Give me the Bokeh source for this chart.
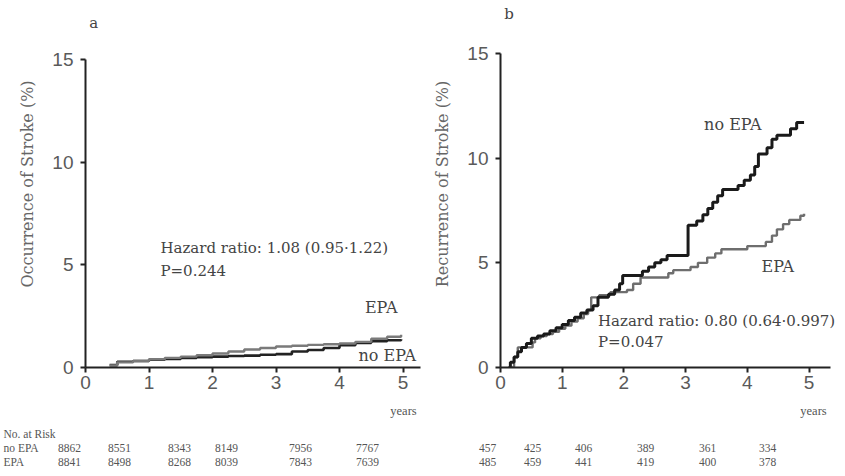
from bokeh.plotting import figure
from bokeh.models import Label, Range1d, FixedTicker, ColumnDataSource
from bokeh.layouts import column, row
from bokeh.core.properties import value
from bokeh.embed import file_html
from bokeh.resources import INLINE

# ---------------- data ----------------
x_ticks = [0, 1, 2, 3, 4, 5]
y_ticks = [0, 5, 10, 15]

# panel a: occurrence of stroke (primary prevention), cumulative %
a_epa_t = [0.38, 0.5, 0.75, 1.0, 1.25, 1.5, 1.75, 2.0, 2.25, 2.5, 2.75, 3.0, 3.25, 3.5, 3.75, 4.0, 4.25, 4.5, 4.75, 4.97]
a_epa_v = [0.1, 0.25, 0.32, 0.4, 0.47, 0.53, 0.6, 0.68, 0.78, 0.88, 0.95, 1.02, 1.06, 1.1, 1.13, 1.17, 1.25, 1.4, 1.5, 1.6]
a_no_t = [0.38, 0.5, 0.75, 1.0, 1.25, 1.5, 1.75, 2.0, 2.25, 2.5, 2.75, 3.0, 3.25, 3.5, 3.75, 4.0, 4.25, 4.5, 4.75, 4.97]
a_no_v = [0.12, 0.28, 0.32, 0.38, 0.42, 0.46, 0.5, 0.53, 0.56, 0.58, 0.62, 0.65, 0.78, 0.85, 0.95, 1.08, 1.2, 1.28, 1.33, 1.38]

# panel b: recurrence of stroke (secondary prevention), cumulative %
b_no_t = [0.13, 0.16, 0.22, 0.28, 0.34, 0.42, 0.5, 0.6, 0.7, 0.8, 0.9, 1.0, 1.1, 1.2, 1.3, 1.4, 1.5,
          1.58, 1.75, 1.85, 1.93, 1.98, 2.3, 2.4, 2.5, 2.6, 2.7, 3.04, 3.18, 3.28, 3.36, 3.44, 3.52,
          3.6, 3.85, 3.95, 4.05, 4.12, 4.18, 4.32, 4.4, 4.48, 4.7, 4.8, 4.92]
b_no_v = [0.0, 0.25, 0.5, 0.75, 0.95, 1.15, 1.4, 1.5, 1.6, 1.75, 1.9, 2.05, 2.25, 2.4, 2.6, 2.75, 2.95,
          3.35, 3.5, 3.7, 4.0, 4.4, 4.6, 4.8, 5.0, 5.15, 5.35, 6.8, 7.0, 7.3, 7.6, 7.9, 8.2,
          8.5, 8.7, 8.95, 9.2, 9.6, 10.2, 10.5, 10.9, 11.1, 11.4, 11.7, 11.7]
b_epa_t = [0.18, 0.22, 0.28, 0.52, 0.56, 0.65, 0.75, 0.85, 0.95, 1.05, 1.15, 1.25, 1.35, 1.42, 1.47,
           1.6, 1.78, 2.05, 2.15, 2.27, 2.72, 2.8, 3.08, 3.2, 3.35, 3.48, 3.58, 4.0, 4.3, 4.4, 4.48,
           4.58, 4.68, 4.86, 4.92]
b_epa_v = [0.0, 0.5, 0.96, 1.2, 1.4, 1.5, 1.6, 1.7, 1.85, 2.0, 2.2, 2.35, 2.55, 2.75, 3.35,
           3.45, 3.6, 3.7, 4.0, 4.3, 4.5, 4.65, 4.8, 5.0, 5.25, 5.45, 5.65, 5.8, 6.0, 6.3, 6.6,
           6.85, 7.05, 7.25, 7.35]

risk_header = "No. at Risk"
risk_groups = ["no EPA", "EPA"]
risk_a_no = ["8862", "8551", "8343", "8149", "7956", "7767"]
risk_a_epa = ["8841", "8498", "8268", "8039", "7843", "7639"]
risk_b_no = ["457", "425", "406", "389", "361", "334"]
risk_b_epa = ["485", "459", "441", "419", "400", "378"]

# ---------------- styling ----------------
SERIF = "DejaVu Serif"
TSERIF = "Liberation Serif"
SANS = "Liberation Sans"
TXT = "#444444"
PH = 402
FRAME_BOTTOM = 367


def make_panel(width, left, px_per_x, px_per_y, axis_top_px, x_axis_end, ylabel):
    frame_w = width - left
    frame_h = FRAME_BOTTOM
    p = figure(width=width, height=PH, output_backend="svg", toolbar_location=None,
               x_range=Range1d(0, frame_w / px_per_x),
               y_range=Range1d(0, 15 + axis_top_px / px_per_y),
               min_border_left=left, min_border_right=0, min_border_top=0,
               min_border_bottom=PH - frame_h)
    for ax in (p.xaxis, p.yaxis):
        ax.axis_line_color = "#222222"
        ax.axis_line_width = 2
        ax.major_tick_line_color = "#222222"
        ax.major_tick_line_width = 2
        ax.major_tick_in = 0
        ax.major_tick_out = 5
        ax.minor_tick_line_color = None
        ax.major_label_text_font = SANS
        ax.major_label_text_font_size = "19px"
        ax.major_label_text_color = "#5a5a5a"
    p.yaxis.major_label_standoff = 7
    p.xaxis.major_label_standoff = 3
    p.xaxis.ticker = FixedTicker(ticks=x_ticks)
    p.yaxis.ticker = FixedTicker(ticks=y_ticks)
    p.xaxis.bounds = (0, x_axis_end)
    p.yaxis.bounds = (0, 15)
    p.yaxis.axis_label = ylabel
    p.yaxis.axis_label_text_font = SERIF
    p.yaxis.axis_label_text_font_size = "16px"
    p.yaxis.axis_label_text_font_style = "normal"
    p.yaxis.axis_label_text_color = "#666666"
    p.yaxis.axis_label_standoff = 12
    p.xgrid.grid_line_color = None
    p.ygrid.grid_line_color = None
    p.outline_line_color = None
    p.background_fill_color = "white"
    p.border_fill_color = "white"
    return p


def note(p, x, y, text, size="16px", align="left"):
    p.add_layout(Label(x=x, y=y, text=text, text_font=SERIF, text_font_size=size,
                       text_color=TXT, text_align=align, text_baseline="middle"))


# panel a
pa = make_panel(423, 85, 63.5, 20.53, 59, 5.27, "Occurrence of Stroke (%)")
pa.step(a_no_t, a_no_v, mode="after", line_width=2.6, color="#222222")
pa.step(a_epa_t, a_epa_v, mode="after", line_width=2.4, color="#7a7a7a")
note(pa, 0.06, 16.8, "a", size="15px")
note(pa, 1.18, 5.8, "Hazard ratio: 1.08 (0.95·1.22)", size="15px")
note(pa, 1.18, 4.7, "P=0.244", size="15px")
note(pa, 4.4, 2.9, "EPA")
note(pa, 4.3, 0.6, "no EPA")

# panel b
pb = make_panel(420, 77, 61.7, 20.93, 53, 5.35, "Recurrence of Stroke (%)")
pb.step(b_epa_t, b_epa_v, mode="after", line_width=2.4, color="#6e6e6e")
pb.step(b_no_t, b_no_v, mode="after", line_width=3, color="#1a1a1a")
note(pb, 0.06, 16.9, "b", size="15px")
note(pb, 1.58, 2.2, "Hazard ratio: 0.80 (0.64·0.997)", size="15px")
note(pb, 1.58, 1.2, "P=0.047", size="15px")
note(pb, 3.3, 11.6, "no EPA")
note(pb, 4.23, 4.83, "EPA")

# ---------------- number-at-risk table ----------------
TW, TH = 843, 70
pt = figure(width=TW, height=TH, output_backend="svg", toolbar_location=None,
            x_range=Range1d(0, TW), y_range=Range1d(PH + TH, PH),
            min_border=0)
pt.axis.visible = False
pt.xgrid.grid_line_color = None
pt.ygrid.grid_line_color = None
pt.outline_line_color = None

cols_a = [69, 119, 179, 226, 300, 367]
cols_b = [487, 532, 583, 645, 707, 767]
row_y = [447, 461]

xs, ys, ts = [], [], []
for vals_a, vals_b, yy in ((risk_a_no, risk_b_no, row_y[0]), (risk_a_epa, risk_b_epa, row_y[1])):
    for cx, t in zip(cols_a, vals_a):
        xs.append(cx); ys.append(yy); ts.append(t)
    for cx, t in zip(cols_b, vals_b):
        xs.append(cx); ys.append(yy); ts.append(t)
pt.text(x="x", y="y", text="t", source=ColumnDataSource(dict(x=xs, y=ys, t=ts)),
        text_font=value(TSERIF), text_font_size="11.5px", text_color="#555555",
        text_align="center", text_baseline="middle")
pt.text(x=[3, 3, 3], y=[433, row_y[0], row_y[1]], text=[risk_header] + risk_groups,
        text_font=value(TSERIF), text_font_size="11.5px", text_color="#555555",
        text_align="left", text_baseline="middle")
pt.text(x=[403, 813], y=[410, 410], text=["years", "years"],
        text_font=value(TSERIF), text_font_size="12.5px", text_color="#555555",
        text_align="center", text_baseline="middle")

layout = column(row(pa, pb), pt)
open("out.html", "w").write(file_html(layout, INLINE))
